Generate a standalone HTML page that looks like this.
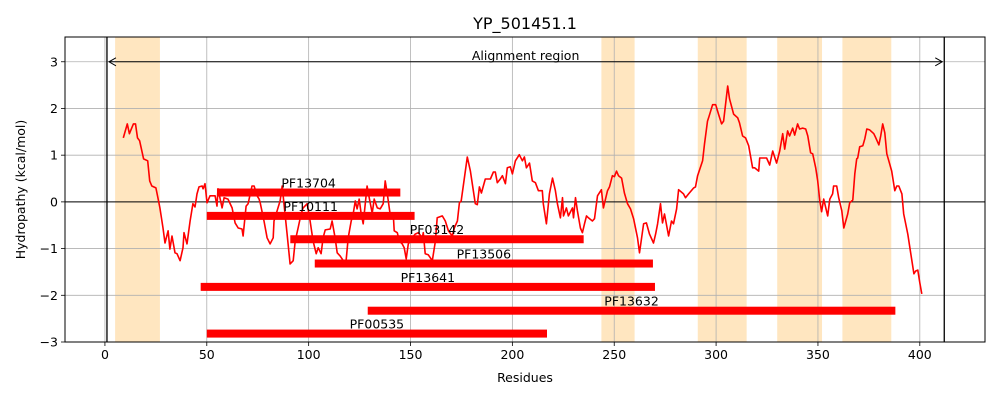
<!DOCTYPE html>
<html><head><meta charset="utf-8"><style>
html,body{margin:0;padding:0;background:#fff;}
svg{display:block;font-family:"DejaVu Sans","Liberation Sans",sans-serif;}
</style></head><body>
<svg id="chart" width="1000" height="400" xmlns="http://www.w3.org/2000/svg">
<rect width="1000" height="400" fill="#fff"/>
<g id="shades"></g><g id="grid"></g><g id="bars"></g><g id="line"></g><g id="frame"></g><g id="labels"></g>
</svg>
<script>
const residues=[9,11,12,14,15,16,17,19,21,22,23,25,26,27,28.5,29.5,31,31.9,32.9,34.4,35.4,36.9,38.3,38.8,40.3,41.8,43.2,44.2,45.2,46.2,47.7,48.2,49.1,50.1,51.6,54.1,55,55.5,57.5,58.5,60.4,62.4,63.9,65.4,67.3,67.8,69.3,70.3,72.2,73.2,74.7,75.7,76.2,78.1,79.6,81.1,82.6,83,84.5,86,87,88,89.4,90.9,92.4,93.4,94.8,96.3,97.3,99.3,100.7,102.2,103.7,104.7,106.1,107.1,108.1,110.6,111.5,113,114,115.5,117,118.4,119.4,120.9,121.9,122.9,123.8,124.8,125.8,126.8,128.7,129.7,131.2,132.2,133.7,135.1,136.6,137.6,138.6,140,141.5,142,143.5,144.5,145.9,146.9,147.9,148.9,150.9,152.3,153.8,155.8,156.3,157.2,158.7,160.7,162.2,163.1,165.6,167.1,168.6,170.5,171.5,173,174,174.9,177.9,179.4,181.8,182.8,183.8,184.8,186.7,189.2,190.7,191.6,192.6,194.1,195.1,196.6,197.5,199,200,201.5,203.4,204.9,205.9,206.9,208.4,209.8,211.3,212.8,214.7,215.2,216.7,218.2,219.7,221.1,222.1,223.6,224.6,225.1,226.5,227.5,229.5,230,231,231.9,233.4,234.4,235.4,236.4,237.3,239.3,240.3,241.8,243.7,244.7,246.7,247.7,249.1,250.1,251.1,252.1,253.6,255,256.5,258,259.5,261.4,262.4,264.4,265.8,267.3,269.3,270.3,271.3,272.7,273.7,274.7,276.7,278.1,279.1,280.6,281.6,284,285,286.5,289,289.9,290.9,293.4,294.3,295.8,296.3,298.3,299.8,301.2,302.7,303.7,305.7,306.6,308.6,310.6,311.5,313,314.5,316,317.9,318.9,320.9,321.4,323.3,324.8,326.3,327.8,329.7,331.2,332.7,333.7,335.1,336.1,337.6,338.6,340,341,342.5,344,345,346.4,347.4,348.9,349.9,350.9,351.8,352.8,354.8,355.8,357.2,357.7,359.2,360.2,361.7,362.7,364.6,365.6,367.1,368.1,369,369.5,370.5,372,373,374,375.4,377.4,378.4,379.9,380.8,381.8,382.8,383.8,384.8,386.2,387.7,388.7,389.7,391.2,392.1,394.1,395.6,397.1,398,399,400,401];
const hydropathy=[1.37,1.67,1.46,1.67,1.67,1.37,1.31,0.92,0.88,0.45,0.34,0.30,0.09,-0.13,-0.56,-0.88,-0.62,-1.01,-0.73,-1.09,-1.11,-1.26,-0.98,-0.66,-0.90,-0.41,-0.04,-0.11,0.17,0.32,0.34,0.28,0.39,-0.02,0.13,0.13,-0.09,0.28,-0.13,0.09,0.06,-0.13,-0.45,-0.56,-0.58,-0.73,-0.09,-0.04,0.34,0.34,0.13,0.06,-0.02,-0.41,-0.77,-0.90,-0.77,-0.41,-0.19,0.02,0.34,-0.09,-0.69,-1.33,-1.26,-0.84,-0.56,-0.26,-0.13,-0.04,-0.41,-0.84,-1.11,-0.98,-1.11,-0.77,-0.60,-0.58,-0.41,-0.77,-1.09,-1.16,-1.26,-1.26,-0.77,-0.41,-0.24,0.02,-0.15,0.06,-0.26,-0.47,0.34,0.09,-0.24,0.06,-0.13,-0.15,-0.04,0.45,0.17,-0.26,-0.24,-0.62,-0.66,-0.84,-0.90,-0.98,-1.22,-0.90,-0.77,-0.69,-0.66,-0.77,-0.66,-1.11,-1.13,-1.26,-0.84,-0.34,-0.30,-0.41,-0.62,-0.73,-0.56,-0.41,-0.02,0.02,0.96,0.66,-0.04,-0.06,0.32,0.19,0.49,0.49,0.64,0.64,0.41,0.49,0.56,0.39,0.73,0.75,0.60,0.88,1.01,0.88,0.96,0.73,0.83,0.45,0.41,0.24,0.24,-0.04,-0.47,0.17,0.51,0.24,-0.04,-0.34,0.09,-0.30,-0.13,-0.30,-0.13,-0.34,0.09,-0.19,-0.56,-0.66,-0.47,-0.30,-0.34,-0.41,-0.36,0.13,0.26,-0.13,0.24,0.32,0.56,0.54,0.66,0.56,0.51,0.19,-0.04,-0.15,-0.36,-0.77,-1.09,-0.47,-0.45,-0.69,-0.88,-0.69,-0.47,-0.04,-0.45,-0.26,-0.73,-0.41,-0.47,-0.15,0.26,0.17,0.09,0.17,0.30,0.32,0.56,0.88,1.24,1.73,1.80,2.08,2.08,1.88,1.67,1.73,2.48,2.21,1.88,1.80,1.69,1.41,1.37,1.20,0.73,0.73,0.66,0.94,0.94,0.94,0.79,1.09,0.83,1.09,1.46,1.13,1.52,1.41,1.58,1.43,1.67,1.56,1.58,1.56,1.41,1.05,1.03,0.73,0.45,0.02,-0.21,0.06,-0.30,0.06,0.17,0.34,0.34,0.09,-0.19,-0.56,-0.26,-0.02,0.04,0.60,0.92,0.94,1.18,1.20,1.35,1.56,1.54,1.46,1.37,1.22,1.41,1.67,1.48,1.03,0.88,0.66,0.24,0.34,0.34,0.17,-0.26,-0.69,-1.11,-1.54,-1.48,-1.46,-1.73,-1.97];
const domainNames=["PF13704","PF10111","PF03142","PF13506","PF13641","PF13632","PF00535"];
const domainStart=[55,50,91,103,47,129,50];
const domainEnd=[145,152,235,269,270,388,217];
const domainLevel=[0.2,-0.3,-0.8,-1.32,-1.82,-2.33,-2.82];
const shadeStart=[5,243.7,291,330,362];
const shadeEnd=[27,260,315,352,386];
const alignStart=1, alignEnd=412;
const xTicks=[0,50,100,150,200,250,300,350,400];
const yTicks=[-3,-2,-1,0,1,2,3];

const L=65,R=985,T=37,B=342;
const xMin=-19.6,xMax=432, yMin=-3,yMax=3.53;
const X=v=>L+(v-xMin)/(xMax-xMin)*(R-L);
const Y=v=>B-(v-yMin)/(yMax-yMin)*(B-T);
const NS="http://www.w3.org/2000/svg";
function mk(tag,attrs,parent,text){const e=document.createElementNS(NS,tag);for(const k in attrs)e.setAttribute(k,attrs[k]);if(text!==undefined)e.textContent=text;document.getElementById(parent).appendChild(e);return e;}

shadeStart.forEach((s,i)=>{
 const e=mk('rect',{x:X(s),y:T,width:X(shadeEnd[i])-X(s),height:B-T,fill:'#ffe6c0'},'shades');
 
 
});
xTicks.forEach(t=>{
 const g=mk('line',{x1:X(t),x2:X(t),y1:T,y2:B,stroke:'#b0b0b0','stroke-width':0.8},'grid');
 
 
 mk('line',{x1:X(t),x2:X(t),y1:B,y2:B+4,stroke:'#000','stroke-width':0.8},'frame');
 const l=mk('text',{x:X(t),y:B+17,'text-anchor':'middle','font-size':12.5},'labels',String(t));
 
 
});
yTicks.forEach(t=>{
 const g=mk('line',{x1:L,x2:R,y1:Y(t),y2:Y(t),stroke:'#b0b0b0','stroke-width':0.8},'grid');
 
 
 mk('line',{x1:L-4,x2:L,y1:Y(t),y2:Y(t),stroke:'#000','stroke-width':0.8},'frame');
 const l=mk('text',{x:L-7,y:Y(t)+4.5,'text-anchor':'end','font-size':12.5},'labels',t<0?'\u2212'+(-t):String(t));
 
 
});
const zl=mk('line',{x1:L,x2:R,y1:Y(0),y2:Y(0),stroke:'#000','stroke-width':0.9},'grid');



domainNames.forEach((n,i)=>{
 const b=mk('rect',{x:X(domainStart[i]),y:Y(domainLevel[i])-4,width:X(domainEnd[i])-X(domainStart[i]),height:8,fill:'#ff0000'},'bars');
 
 
 const t=mk('text',{x:(X(domainStart[i])+X(domainEnd[i]))/2,y:Y(domainLevel[i])-5,'text-anchor':'middle','font-size':12.5},'labels',n);
 
 
});

const d=residues.map((r,i)=>(i?'L':'M')+X(r).toFixed(1)+','+Y(hydropathy[i]).toFixed(1)).join('');
const p=mk('path',{d:d,fill:'none',stroke:'#ff0000','stroke-width':1.6,'stroke-linejoin':'round'},'line');



[alignStart,alignEnd].forEach(a=>{
 const v=mk('line',{x1:X(a),x2:X(a),y1:T,y2:B,stroke:'#000','stroke-width':1.3},'frame');
 
 
});
const ay=Y(3);
const ar=mk('line',{x1:X(alignStart)+2,x2:X(alignEnd)-2,y1:ay,y2:ay,stroke:'#000','stroke-width':1},'frame');


mk('path',{d:`M${X(alignStart)+9},${ay-4}L${X(alignStart)+2},${ay}L${X(alignStart)+9},${ay+4}`,fill:'none',stroke:'#000','stroke-width':1},'frame');
mk('path',{d:`M${X(alignEnd)-9},${ay-4}L${X(alignEnd)-2},${ay}L${X(alignEnd)-9},${ay+4}`,fill:'none',stroke:'#000','stroke-width':1},'frame');
const at=mk('text',{x:(X(alignStart)+X(alignEnd))/2,y:ay-2,'text-anchor':'middle','font-size':12.5},'labels','Alignment region');



const fr=mk('rect',{x:L,y:T,width:R-L,height:B-T,fill:'none',stroke:'#000','stroke-width':1},'frame');


const tt=mk('text',{x:(L+R)/2,y:29,'text-anchor':'middle','font-size':16},'labels','YP_501451.1');


const xt=mk('text',{x:(L+R)/2,y:382,'text-anchor':'middle','font-size':12.5},'labels','Residues');


const yt=mk('text',{x:0,y:0,'text-anchor':'middle','font-size':12.5,transform:`translate(25,${(T+B)/2}) rotate(-90)`},'labels','Hydropathy (kcal/mol)');


</script>
</body></html>
